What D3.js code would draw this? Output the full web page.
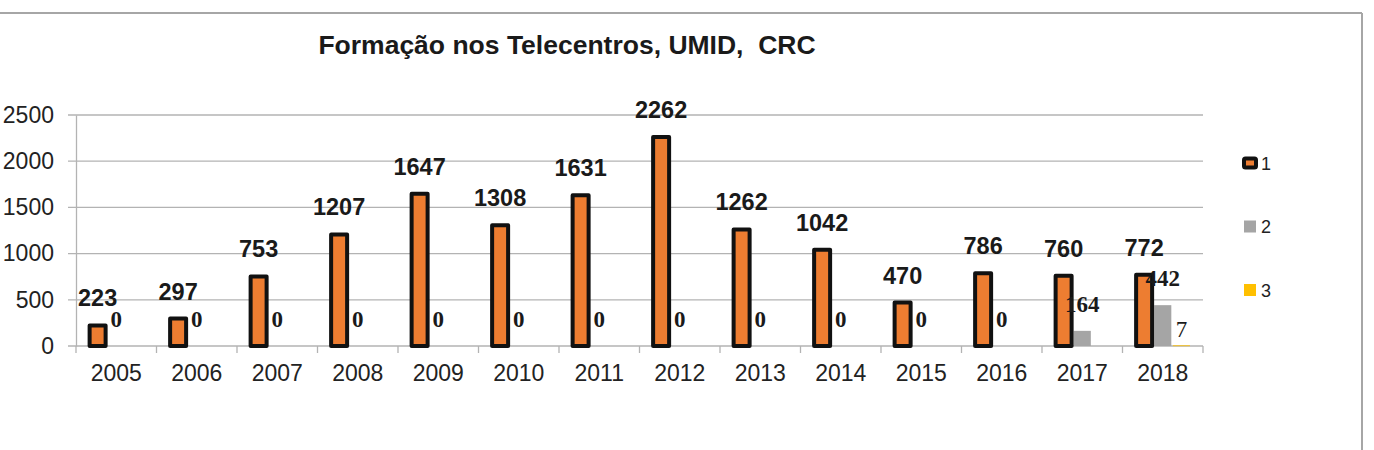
<!DOCTYPE html>
<html>
<head>
<meta charset="utf-8">
<script src="https://cdn.jsdelivr.net/npm/d3@7"></script>
<style>
  body { margin: 0; background: #fff; }
  svg { display: block; font-family: "Liberation Sans", Arial, sans-serif; }
</style>
</head>
<body>
<svg id="chart" width="1374" height="450"></svg>
<script>
// values
const years = ["2005", "2006", "2007", "2008", "2009", "2010", "2011", "2012", "2013", "2014", "2015", "2016", "2017", "2018"];
const series1 = [223, 297, 753, 1207, 1647, 1308, 1631, 2262, 1262, 1042, 470, 786, 760, 772];
const series2 = [0, 0, 0, 0, 0, 0, 0, 0, 0, 0, 0, 0, 164, 442];
const series3 = [null, null, null, null, null, null, null, null, null, null, null, null, null, 7];
const seriesNames = ["1", "2", "3"];
const yTicks = [0, 500, 1000, 1500, 2000, 2500];
const title = "Formação nos Telecentros, UMID,  CRC";

const colors = { "1": "#ED7D31", "2": "#A5A5A5", "3": "#FFC000" };

const svg = d3.select("#chart");

// frame lines (top + right)
svg.append("line").attr("x1", 0).attr("x2", 1362).attr("y1", 13).attr("y2", 13)
  .attr("stroke", "#a6a6a6").attr("stroke-width", 2);
svg.append("line").attr("x1", 1362).attr("x2", 1362).attr("y1", 13).attr("y2", 450)
  .attr("stroke", "#a6a6a6").attr("stroke-width", 2);

const plotL = 76, plotR = 1203, plotT = 115, plotB = 346;

const x0 = d3.scaleBand().domain(years).range([plotL, plotR]);
const x1 = d3.scaleBand().domain(seriesNames).range([0, x0.bandwidth()])
  .paddingInner(0).paddingOuter(0.66);
const y = d3.scaleLinear().domain([0, 2500]).range([plotB, plotT]);

// gridlines
svg.append("g").selectAll("line").data(yTicks).join("line")
  .attr("x1", plotL - 8).attr("x2", plotR)
  .attr("y1", d => y(d)).attr("y2", d => y(d))
  .attr("stroke", "#b3b3b3").attr("stroke-width", 1.3);

// y axis
const yAxis = d3.axisLeft(y).tickValues(yTicks).tickFormat(d3.format("d")).tickSize(0).tickPadding(22);
const gy = svg.append("g").attr("transform", `translate(${plotL},0)`).call(yAxis);
gy.select(".domain").attr("stroke", "#b3b3b3").attr("stroke-width", 1.3);
gy.selectAll("text").attr("font-size", 23).attr("fill", "#222")
  .attr("font-family", "Liberation Sans, Arial, sans-serif");

// x axis
const xAxis = d3.axisBottom(x0).tickSize(0).tickPadding(19);
const gx = svg.append("g").attr("transform", `translate(0,${plotB})`).call(xAxis);
gx.select(".domain").remove();
gx.selectAll("text").attr("font-size", 23).attr("fill", "#222")
  .attr("font-family", "Liberation Sans, Arial, sans-serif");
// category separator ticks
svg.append("g").selectAll("line").data(years.concat(["end"])).join("line")
  .attr("x1", (d, i) => plotL + i * x0.step()).attr("x2", (d, i) => plotL + i * x0.step())
  .attr("y1", plotB).attr("y2", plotB + 7)
  .attr("stroke", "#b3b3b3").attr("stroke-width", 1.3);

const rows = years.map((yr, i) => ({ year: yr, vals: [series1[i], series2[i], series3[i]] }));
const bw = x1.bandwidth() * 0.92;

const groups = svg.append("g").selectAll("g").data(rows).join("g")
  .attr("transform", d => `translate(${x0(d.year)},0)`);

// series 2 and 3 (no outline)
groups.selectAll("rect.s23")
  .data(d => [1, 2].map(k => ({ key: seriesNames[k], v: d.vals[k] })).filter(e => e.v != null && e.v > 0))
  .join("rect").attr("class", "s23")
  .attr("x", e => x1(e.key) + (x1.bandwidth() - bw) / 2)
  .attr("width", bw)
  .attr("y", e => y(e.v))
  .attr("height", e => Math.max(0.8, y(0) - y(e.v)))
  .attr("fill", e => colors[e.key]);

// series 1 with heavy black outline
groups.append("rect")
  .attr("x", d => x1("1") + (x1.bandwidth() - 16) / 2)
  .attr("width", 16)
  .attr("y", d => y(d.vals[0]))
  .attr("height", d => y(0) - y(d.vals[0]))
  .attr("fill", colors["1"])
  .attr("stroke", "#111").attr("stroke-width", 4)
  .attr("stroke-linejoin", "round");

// labels series 1
groups.append("text")
  .attr("x", d => x1("1") + x1.bandwidth() / 2)
  .attr("y", d => y(d.vals[0]) - 19)
  .attr("text-anchor", "middle")
  .attr("font-size", 23.5).attr("font-weight", "bold").attr("fill", "#1a1a1a")
  .text(d => d.vals[0]);

// labels series 2
groups.append("text")
  .attr("x", d => x1("2") + x1.bandwidth() / 2)
  .attr("y", d => y(d.vals[1]) - 19)
  .attr("text-anchor", "middle")
  .attr("font-family", "Liberation Serif, Times New Roman, serif")
  .attr("font-size", 23).attr("font-weight", "bold").attr("fill", "#1a1a1a")
  .text(d => d.vals[1]);

// labels series 3
groups.filter(d => d.vals[2] != null).append("text")
  .attr("x", d => x1("3") + x1.bandwidth() / 2)
  .attr("y", d => y(d.vals[2]) - 8)
  .attr("text-anchor", "middle")
  .attr("font-family", "Liberation Serif, Times New Roman, serif")
  .attr("font-size", 23).attr("fill", "#1a1a1a")
  .text(d => d.vals[2]);

// title
svg.append("text").attr("x", 567).attr("y", 54).attr("text-anchor", "middle")
  .attr("font-size", 26.5).attr("font-weight", "bold").attr("fill", "#1a1a1a")
  .style("white-space", "pre")
  .text(title);

// legend
const legend = svg.append("g").selectAll("g").data(seriesNames).join("g")
  .attr("transform", (d, i) => `translate(1250,${163 + i * 63.5})`);
legend.append("rect")
  .attr("x", d => d === "1" ? -6 : -6).attr("y", d => d === "1" ? -4.5 : -6)
  .attr("width", 12).attr("height", d => d === "1" ? 9 : 12)
  .attr("fill", d => colors[d])
  .attr("stroke", d => d === "1" ? "#111" : "none").attr("stroke-width", 4)
  .attr("rx", d => d === "1" ? 1.5 : 0);
legend.append("text").attr("x", 11).attr("y", 6.5)
  .attr("font-size", 18).attr("fill", "#222")
  .text(d => d);
</script>
</body>
</html>
